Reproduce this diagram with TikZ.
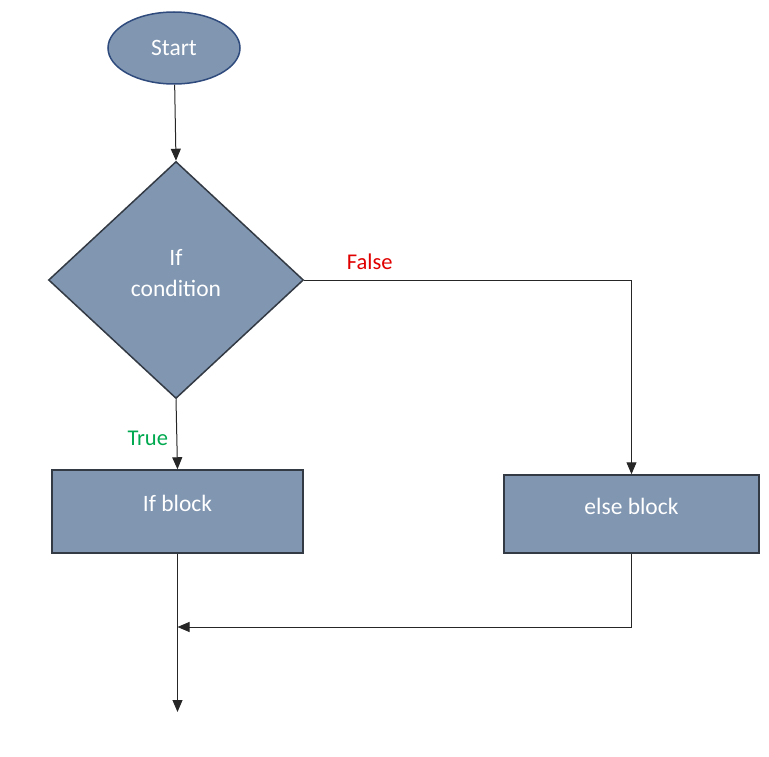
\documentclass[tikz,border=0pt]{standalone}
\usepackage{fontspec}
\setmainfont{Carlito}
\usetikzlibrary{positioning, arrows.meta, shapes.geometric}
\definecolor{shapefill}{HTML}{8096B1}
\definecolor{startborder}{HTML}{2F4A7C}
\definecolor{blockborder}{HTML}{333A44}
\definecolor{truelabel}{HTML}{00A94F}
\definecolor{falselabel}{HTML}{E00000}

\begin{document}
\begin{tikzpicture}[
    x=1pt, y=-1pt,
    >={Triangle[length=12pt, width=10pt]},
    every node/.style={font=\fontsize{23.5}{31}\selectfont},
    flow/.style={->, line width=1pt, draw=black!85},
    startbox/.style={ellipse, draw=startborder, line width=1.5pt, fill=shapefill,
                     text=white, minimum width=132pt, minimum height=72pt},
    decision/.style={diamond, draw=blockborder, line width=1.5pt, fill=shapefill,
                     text=white, align=center, minimum width=255pt, minimum height=237pt},
    block/.style={rectangle, draw=blockborder, line width=1.5pt, fill=shapefill,
                  text=white, minimum height=83pt, text depth=16pt},
    annot/.style={font=\fontsize{22.5}{26}\selectfont},
]

% page frame
\useasboundingbox (0,0) rectangle (769,757);

% nodes
\node[startbox] (start) at (174,48) {Start};
\node[decision, text depth=15pt] (cond) at (176,280) {If\\condition};
\node[block, minimum width=251pt] (ifb) at (177.5,511.5) {If block};
\node[block, minimum width=255pt, minimum height=78pt] (elseb) at (631.5,514) {else block};

% free ends
\coordinate (merge) at (ifb.south |- 0,627);
\coordinate (out) at (ifb.south |- 0,712);

% connectors
\draw[flow] (start) -- (cond.north);
\draw[flow] (cond.east) -| (elseb.north)
    node[pos=0.1, above=7pt, annot, text=falselabel] {False};
\draw[flow] (cond.south) -- (ifb.north)
    node[pos=0.56, left=5pt, annot, text=truelabel] {True};
\draw[flow] (elseb.south) |- (merge);
\draw[flow] (ifb.south) -- (out);

\end{tikzpicture}
\end{document}
